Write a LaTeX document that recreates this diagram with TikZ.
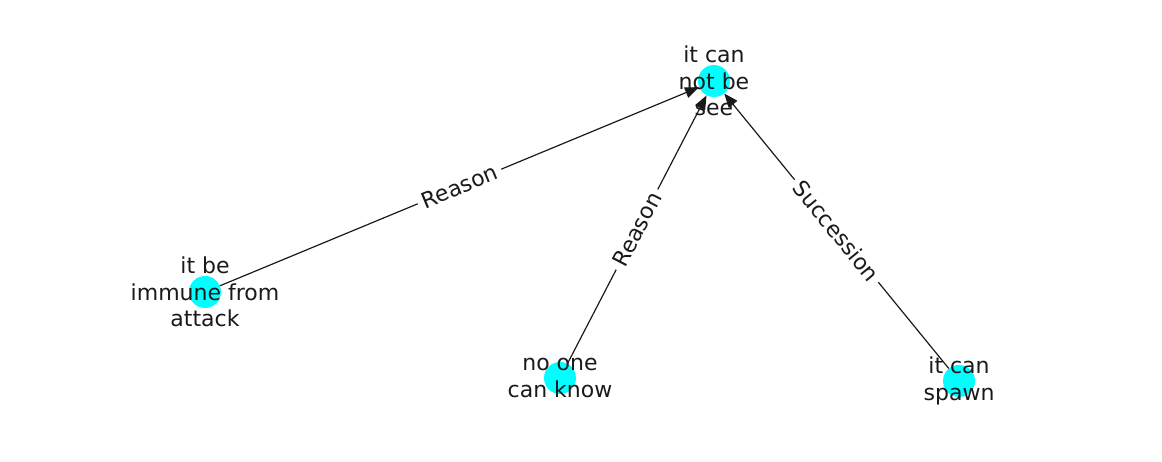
\documentclass[tikz,border=0pt]{standalone}
\usepackage{fontspec}
\setmainfont{DejaVu Sans}
\usetikzlibrary{arrows.meta}
\definecolor{aqua}{RGB}{0,255,255}
\definecolor{ink}{RGB}{26,26,26}
\begin{document}
\begin{tikzpicture}[x=1pt,y=1pt,
  vertex/.style={circle,fill=aqua,minimum size=32pt,inner sep=0pt},
  caption/.style={font=\fontsize{22}{26.7}\selectfont,align=center,text=ink,inner sep=0pt},
  link/.style={draw=ink,line width=1.2pt,-{Triangle[length=14pt,width=11pt]}},
  elabel/.style={fill=white,inner sep=5pt,font=\fontsize{22}{26.7}\selectfont,text=ink,sloped}]
\useasboundingbox (0,0) rectangle (1162,462);

% circles
\node[vertex] (see)    at (714,381) {};
\node[vertex] (immune) at (205,170) {};
\node[vertex] (know)   at (560,84) {};
\node[vertex] (spawn)  at (959,81) {};

% connectors with their labels
\draw[link] (immune) -- (see) node[midway,elabel] {Reason};
\draw[link] (know)   -- (see) node[midway,elabel] {Reason};
\draw[link] (spawn)  -- (see) node[midway,elabel] {Succession};

% texts on top
\node[caption] (tsee)    at (see)    {it can\\not be\\see};
\node[caption] (timmune) at (immune) {it be\\immune from\\attack};
\node[caption] (tknow)   at (know)   {no one\\can know};
\node[caption] (tspawn)  at (spawn)  {it can\\spawn};
\end{tikzpicture}
\end{document}
